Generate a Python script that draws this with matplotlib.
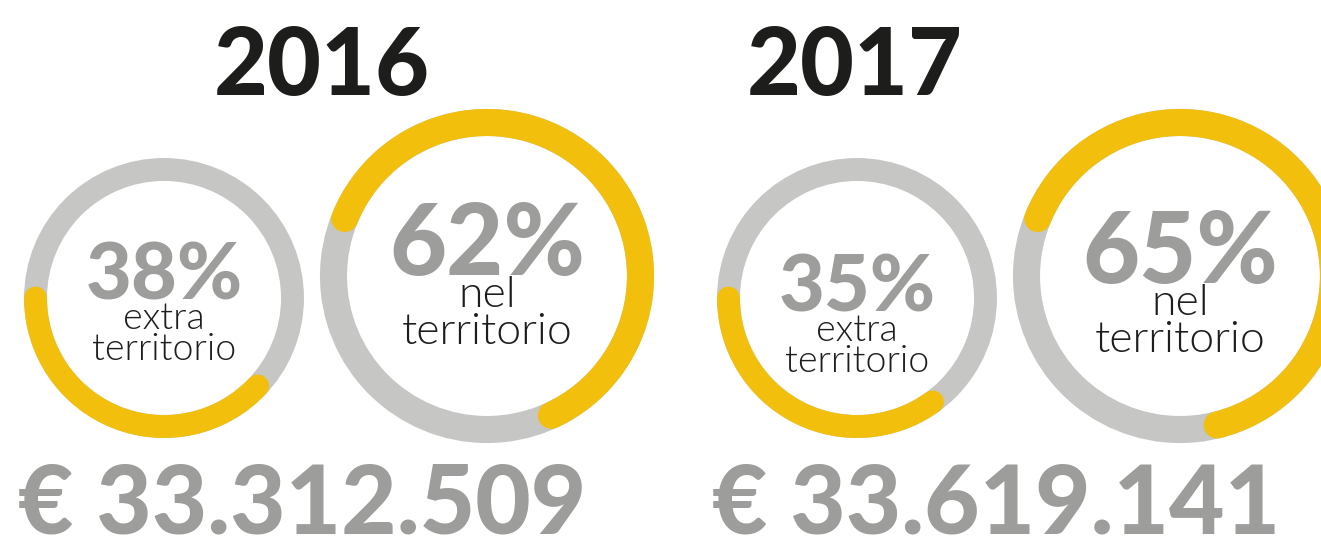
import matplotlib.pyplot as plt
from matplotlib.patches import Circle, Arc

years = ['2016', '2017']
pct_extra = [38, 35]
pct_nel = [62, 65]
totals = [33312509, 33619141]
label_extra = ['extra', 'territorio']
label_nel = ['nel', 'territorio']

YELLOW = '#F2BF0C'
RING = '#C6C6C5'
NUM = '#9D9D9C'
DARK = '#1D1D1B'

W, H = 1321, 540
fig = plt.figure(figsize=(W / 100, H / 100), dpi=100)
ax = fig.add_axes([0, 0, 1, 1])
ax.set_xlim(0, W)
ax.set_ylim(H, 0)
ax.set_aspect('equal')
ax.axis('off')

BOLD = dict(family=['Lato', 'DejaVu Sans'], weight='black')
LIGHT = dict(family=['Lato', 'DejaVu Sans'], weight=300)


def ring(cx, cy, r, lw, start, pct, clockwise):
    # y axis is inverted, so visual angle = -data angle
    ax.add_patch(Circle((cx, cy), r, fill=False, ec=RING, lw=lw))
    span = pct / 100 * 360
    if clockwise:   # visually clockwise from start
        t1, t2 = -start, -start + span
    else:           # visually counterclockwise from start
        t1, t2 = -start - span, -start
    ax.add_patch(Arc((cx, cy), 2 * r, 2 * r, theta1=t1, theta2=t2,
                     color=YELLOW, lw=lw, capstyle='round'))


def fmt_eur(v):
    return '€ ' + f'{v:,}'.replace(',', '.')


# layout per year: small ring center, big ring center, title x, total x
small_c = [(164, 298), (857, 298)]
big_c = [(487, 276), (1180, 276)]
title_x = [322, 855]
total_x = [18, 712]
pct_small_y = [300, 312]
pct_big_y = [275, 283]

for i, yr in enumerate(years):
    ax.text(title_x[i], 95, yr, ha='center', va='baseline', fontsize=67,
            color=DARK, **BOLD)

    sx, sy = small_c[i]
    ring(sx, sy, 128.5, 16.5, 180, pct_extra[i], clockwise=False)
    ax.text(sx, pct_small_y[i], f'{pct_extra[i]}%', ha='center', va='baseline',
            fontsize=57, color=NUM, **BOLD)
    ax.text(sx, pct_small_y[i] + 29, label_extra[0], ha='center', va='baseline',
            fontsize=27, color=DARK, **LIGHT)
    ax.text(sx, pct_small_y[i] + 60, label_extra[1], ha='center', va='baseline',
            fontsize=27, color=DARK, **LIGHT)

    bx, by = big_c[i]
    ring(bx, by, 153.5, 19.5, 158, pct_nel[i], clockwise=True)
    ax.text(bx, pct_big_y[i], f'{pct_nel[i]}%', ha='center', va='baseline',
            fontsize=71, color=NUM, **BOLD)
    ax.text(bx, pct_big_y[i] + 32, label_nel[0], ha='center', va='baseline',
            fontsize=32, color=DARK, **LIGHT)
    ax.text(bx, pct_big_y[i] + 69, label_nel[1], ha='center', va='baseline',
            fontsize=32, color=DARK, **LIGHT)

    ax.text(total_x[i], 534, fmt_eur(totals[i]), ha='left', va='baseline',
            fontsize=69, color=NUM, **BOLD)

fig.savefig('out.png', dpi=100, facecolor='white')
